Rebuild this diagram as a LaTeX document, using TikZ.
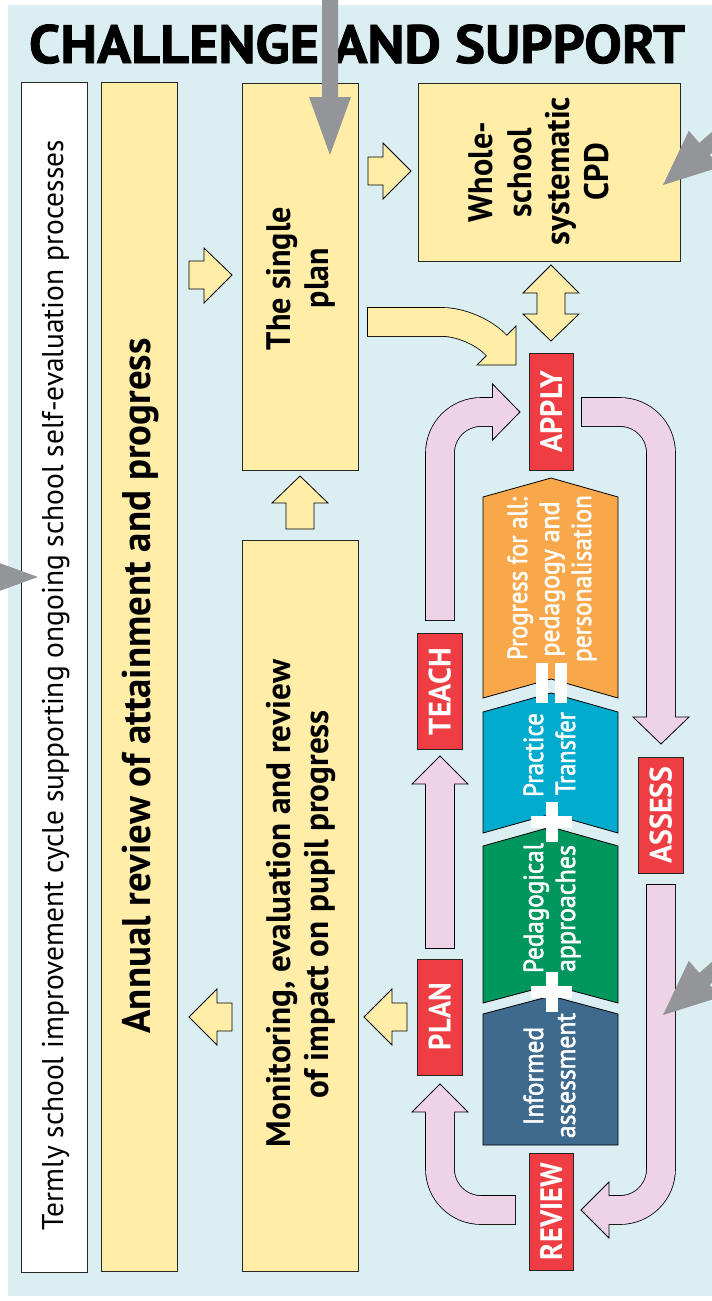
\documentclass[tikz,border=0pt]{standalone}
\usepackage{fontspec}
\setmainfont{PT Sans}
\newfontfamily\semifont{PT Sans}[FakeBold=2]
\newfontfamily\titlefont{PT Sans}[BoldFeatures={FakeBold=1.5}]
\usepackage{graphicx}
\definecolor{bgblue}{HTML}{DBEEF1}
\definecolor{pyellow}{HTML}{FFEDA8}
\definecolor{ppink}{HTML}{EED2E6}
\definecolor{pred}{HTML}{EE3E44}
\definecolor{porange}{HTML}{F8A84B}
\definecolor{pcyan}{HTML}{00ABCE}
\definecolor{pgreen}{HTML}{00975F}
\definecolor{pdblue}{HTML}{3E6A8D}
\definecolor{pgray}{HTML}{939598}
\newcommand{\fitw}[2]{\resizebox{#1}{\height}{#2}}
\begin{document}
\begin{tikzpicture}[x=1pt,y=-1pt,
  box/.style={draw=black!85, line width=1pt, inner sep=0pt},
  ybox/.style={box, fill=pyellow},
  wbox/.style={box, fill=white},
  rbox/.style={box, fill=pred, minimum width=45pt, minimum height=117pt},
  rot/.style={rotate=90, anchor=base, inner sep=0pt},
  bigtxt/.style={rot, font=\bfseries\fontsize{34}{34}\selectfont},
  redtxt/.style={rot, text=white, font=\bfseries\fontsize{31}{31}\selectfont},
  coltxt/.style={rot, text=white, font=\semifont\fontsize{27.5}{27.5}\selectfont},
  chev/.style={draw=black, line width=0.8pt},
  yarrow/.style={fill=pyellow, draw=black, line width=0.8pt, line join=miter},
  bandback/.style={draw=black, line width=29.6pt, line cap=butt},
  bandfill/.style={draw=#1, line width=28pt, line cap=butt},
  headp/.style={fill=#1, draw=black, line width=0.8pt, line join=miter},
  garrow/.style={fill=pgray, draw=none}
]
\useasboundingbox (0,0) rectangle (712,1301);
\clip (0,0) rectangle (712,1301);
\fill[white] (0,0) rectangle (712,1301);
\fill[bgblue] (8,5) rectangle (712,1296);

% title
\node[anchor=base, inner sep=0pt, font=\titlefont\bfseries\fontsize{54}{54}\selectfont] (title) at (357,63) {\fitw{656pt}{CHALLENGE AND SUPPORT}};

% main boxes
\node[wbox, minimum width=66pt, minimum height=1190pt] (termly) at (54,677) {};
\node[ybox, minimum width=76pt, minimum height=1189pt] (annual) at (139,676.5) {};
\node[ybox, minimum width=116pt, minimum height=387pt] (single) at (300,276.5) {};
\node[ybox, minimum width=116pt, minimum height=731pt] (monitor) at (300,905.5) {};
\node[ybox, minimum width=262pt, minimum height=178pt] (cpd) at (549,172) {};

% red boxes
\node[rbox, minimum width=44pt] (apply) at (551,411.5) {};
\node[rbox, minimum height=116pt] (teach) at (439.5,691) {};
\node[rbox, minimum height=116pt] (assess) at (660.5,815) {};
\node[rbox, minimum height=116pt] (plan) at (439.5,1017) {};
\node[rbox, minimum width=44pt] (review) at (551,1211.5) {};

% texts in main boxes
\node[rot, font=\fontsize{30}{30}\selectfont] (ttermly) at (63,685) {\fitw{1090pt}{Termly school improvement cycle supporting ongoing school self-evaluation processes}};
\node[rot, font=\bfseries\fontsize{40}{40}\selectfont] (tannual) at (150,686) {\fitw{695pt}{Annual review of attainment and progress}};
\node[bigtxt] (tsingle1) at (290,278.5) {\fitw{143pt}{The single}};
\node[bigtxt] (tsingle2) at (328,278) {\fitw{60pt}{plan}};
\node[bigtxt] (tmon1) at (290,903.5) {\fitw{487pt}{Monitoring, evaluation and review}};
\node[bigtxt] (tmon2) at (328,904) {\fitw{388pt}{of impact on pupil progress}};
\node[bigtxt] (tcpd1) at (492.5,172) {\fitw{100pt}{Whole-}};
\node[bigtxt] (tcpd2) at (531,172.5) {\fitw{89pt}{school}};
\node[bigtxt] (tcpd3) at (569.5,171) {\fitw{148pt}{systematic}};
\node[bigtxt] (tcpd4) at (608,171.5) {\fitw{57pt}{CPD}};

% red labels
\node[redtxt] (lapply) at (562,411.5) {\fitw{82pt}{APPLY}};
\node[redtxt] (lteach) at (450.5,691.5) {\fitw{87pt}{TEACH}};
\node[redtxt] (lassess) at (671.5,815) {\fitw{97pt}{ASSESS}};
\node[redtxt] (lplan) at (450.5,1016.5) {\fitw{67pt}{PLAN}};
\node[redtxt] (lreview) at (562,1211.5) {\fitw{97pt}{REVIEW}};

% chevron blocks
\filldraw[chev, fill=porange] (483,497) -- (551,478) -- (618,497) -- (618,698) -- (551,679) -- (483,698) -- cycle;
\filldraw[chev, fill=pcyan] (483,712) -- (551,693) -- (618,712) -- (618,833) -- (551,814) -- (483,833) -- cycle;
\filldraw[chev, fill=pgreen] (483,846) -- (551,827) -- (618,846) -- (618,1003) -- (551,985) -- (483,1003) -- cycle;
\filldraw[chev, fill=pdblue] (483,1014) -- (551,996) -- (618,1014) -- (618,1145) -- (483,1145) -- cycle;

% = and + signs
\fill[white] (536,663) rectangle (548,703);
\fill[white] (555,663) rectangle (567,703);
\fill[white] (546,802) rectangle (558,842);
\fill[white] (531,816) rectangle (572,828);
\fill[white] (546,972) rectangle (558,1012);
\fill[white] (531,986) rectangle (572,998);

% chevron texts
\node[coltxt] (c1) at (527,578.5) {\fitw{163pt}{Progress for all:}};
\node[coltxt] (c2) at (559,579) {\fitw{155pt}{pedagogy and}};
\node[coltxt] (c3) at (591,578.5) {\fitw{167pt}{personalisation}};
\node[coltxt] (c4) at (543,755) {\fitw{84pt}{Practice}};
\node[coltxt] (c5) at (575,753.5) {\fitw{83pt}{Transfer}};
\node[coltxt] (c6) at (543,908) {\fitw{130pt}{Pedagogical}};
\node[coltxt] (c7) at (575,908.5) {\fitw{127pt}{approaches}};
\node[coltxt] (c8) at (543,1076) {\fitw{98pt}{Informed}};
\node[coltxt] (c9) at (575,1075.5) {\fitw{125pt}{assessment}};

% yellow block arrows
\filldraw[yarrow] (189,261) -- (204,261) -- (204,248) -- (232,275) -- (204,303) -- (204,289) -- (189,289) -- cycle;
\filldraw[yarrow] (368,157) -- (383,157) -- (383,143) -- (411,171) -- (383,199) -- (383,185) -- (368,185) -- cycle;
\filldraw[yarrow] (551,265) -- (579,293) -- (565,293) -- (565,314) -- (579,314) -- (551,341) -- (523,314) -- (537,314) -- (537,293) -- (523,293) -- cycle;
\filldraw[yarrow] (300,476) -- (328,503) -- (314,503) -- (314,529) -- (286,529) -- (286,503) -- (272,503) -- cycle;
\filldraw[yarrow] (189,1017) -- (217,989) -- (217,1003) -- (232,1003) -- (232,1031) -- (217,1031) -- (217,1045) -- cycle;
\filldraw[yarrow] (364,1017) -- (392,989) -- (392,1003) -- (407,1003) -- (407,1031) -- (392,1031) -- (392,1045) -- cycle;

% curved yellow arrow: single plan -> APPLY
\coordinate (ys) at (368,322);
\coordinate (ye) at (496.5,345.5);
\draw[bandback, rounded corners=30pt, shorten <=-0.8pt] (ys) -- (473,322) -- (ye);
\filldraw[headp=pyellow] (516,326) -- (516,365) -- (477,365) -- cycle;
\draw[bandfill=pyellow, rounded corners=30pt, shorten >=-2pt] (ys) -- (473,322) -- (ye);

% pink cycle arrows
% REVIEW -> PLAN
\draw[bandback, rounded corners=41pt, shorten <=-0.8pt] (515,1210) -- (440,1210) -- (440,1112);
\filldraw[headp=ppink] (412,1112) -- (440,1084) -- (468,1112) -- cycle;
\draw[bandfill=ppink, rounded corners=41pt, shorten >=-2pt] (515,1210) -- (440,1210) -- (440,1112);
% PLAN -> TEACH
\draw[bandback, shorten <=-0.8pt] (440,948) -- (440,784);
\filldraw[headp=ppink] (412,784) -- (440,756) -- (468,784) -- cycle;
\draw[bandfill=ppink, shorten >=-2pt] (440,948) -- (440,784);
% TEACH -> APPLY
\draw[bandback, rounded corners=41pt, shorten <=-0.8pt] (440,620) -- (440,412) -- (492.5,412);
\filldraw[headp=ppink] (492.5,384) -- (520,412) -- (492.5,440) -- cycle;
\draw[bandfill=ppink, rounded corners=41pt, shorten >=-2pt] (440,620) -- (440,412) -- (492.5,412);
% APPLY -> ASSESS
\draw[bandback, rounded corners=41pt, shorten <=-0.8pt] (582,412) -- (661,412) -- (661,717);
\filldraw[headp=ppink] (633,717) -- (661,744) -- (689,717) -- cycle;
\draw[bandfill=ppink, rounded corners=41pt, shorten >=-2pt] (582,412) -- (661,412) -- (661,717);
% ASSESS -> REVIEW
\draw[bandback, rounded corners=41pt, shorten <=-0.8pt] (661,885) -- (661,1210) -- (609,1210);
\filldraw[headp=ppink] (609,1182) -- (581,1210) -- (609,1238) -- cycle;
\draw[bandfill=ppink, rounded corners=41pt, shorten >=-2pt] (661,885) -- (661,1210) -- (609,1210);

% grey pointer arrows
\fill[garrow] (322,-5) -- (338,-5) -- (338,97) -- (351,97) -- (330,155) -- (309,97) -- (322,97) -- cycle;
\fill[garrow] (663,185) -- (720.2,167) -- (709.7,154.9) -- (755,115.6) -- (744.6,103.6) -- (699.3,142.9) -- (688.8,130.8) -- cycle;
\fill[garrow] (663,1015) -- (720.2,997) -- (709.7,984.9) -- (755,945.6) -- (744.6,933.6) -- (699.3,972.9) -- (688.8,960.8) -- cycle;
\fill[garrow] (38,577) -- (-20,556) -- (-20,569) -- (-60,569) -- (-60,585) -- (-20,585) -- (-20,598) -- cycle;
\end{tikzpicture}
\end{document}
